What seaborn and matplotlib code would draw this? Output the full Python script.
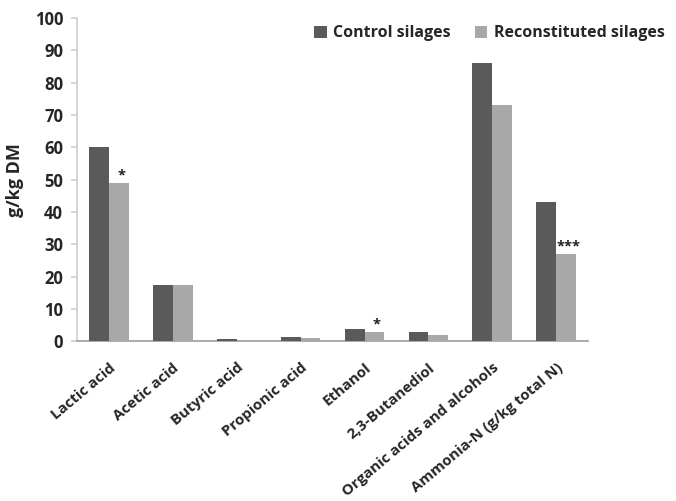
import matplotlib
matplotlib.use("Agg")
import matplotlib.pyplot as plt
import matplotlib.transforms as mtransforms
import seaborn as sns
import pandas as pd

categories = ["Lactic acid", "Acetic acid", "Butyric acid", "Propionic acid",
              "Ethanol", "2,3-Butanediol", "Organic acids and alcohols",
              "Ammonia-N (g/kg total N)"]
control = [60.0, 17.5, 0.6, 1.4, 3.9, 2.7, 86.0, 43.0]
reconstituted = [49.0, 17.5, 0.3, 0.9, 2.9, 1.9, 73.0, 27.0]
significance = ["*", "", "", "", "*", "", "", "***"]
series_names = ["Control silages", "Reconstituted silages"]
yticks = [0, 10, 20, 30, 40, 50, 60, 70, 80, 90, 100]

df = pd.DataFrame({
    "category": categories * 2,
    "value": control + reconstituted,
    "series": [series_names[0]] * len(categories) + [series_names[1]] * len(categories),
})

sns.set_theme(style="white")
plt.rcParams["font.family"] = ["Open Sans", "DejaVu Sans"]

fig = plt.figure(figsize=(6.76, 5.01), dpi=100)
ax = fig.add_axes([0.114, 0.319, 0.756, 0.645])

sns.barplot(data=df, x="category", y="value", hue="series",
            palette=["#5a5a5a", "#a8a8a8"], width=0.62, saturation=1,
            edgecolor="none", ax=ax)
for patch in ax.patches:
    patch.set_zorder(3)

ax.set_ylim(0, 100)
ax.set_xlim(-0.5, len(categories) - 0.5)
ax.set_yticks(yticks)
ax.set_yticklabels([str(t) for t in yticks], fontsize=12, fontweight="bold")
ax.set_xticks(range(len(categories)))
ax.set_xticklabels(categories, rotation=40, ha="right", va="top",
                   rotation_mode="anchor", fontsize=10.8, fontweight="bold")
# nudge the slanted category labels a little to the left
shift = mtransforms.ScaledTranslation(-4 / 100, 0, fig.dpi_scale_trans)
for lbl in ax.get_xticklabels():
    lbl.set_transform(lbl.get_transform() + shift)
ax.set_xlabel("")
ax.set_ylabel("g/kg DM", fontsize=13, fontweight="bold", labelpad=8)

for s in ["top", "right"]:
    ax.spines[s].set_visible(False)
ax.spines["left"].set_color("#d0d0d0")
ax.spines["bottom"].set_color("#a0a0a0")
ax.tick_params(axis="y", which="both", left=True, length=4, color="#d0d0d0", pad=6)
ax.tick_params(axis="x", which="both", bottom=False, pad=8)

# significance marks above the reconstituted bars
light_bars = ax.containers[1]
for bar, mark in zip(light_bars, significance):
    if mark:
        x = bar.get_x() + bar.get_width() / 2 + 0.04
        ax.text(x, bar.get_height() + 0.1, mark, ha="center", va="bottom",
                fontsize=10.5, fontweight="bold", color="#222222")

ax.legend(loc="upper right", bbox_to_anchor=(1.178, 1.022), ncol=2, frameon=False,
          prop={"weight": "bold", "size": 11.5}, handlelength=0.8, handleheight=0.8,
          handletextpad=0.4, columnspacing=1.5)

fig.savefig("out.png", dpi=100)
